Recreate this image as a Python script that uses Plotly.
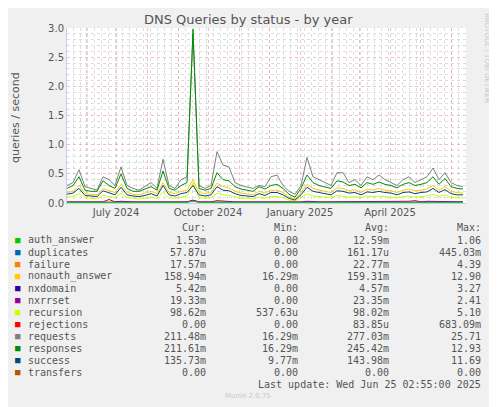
import datetime as dt
import plotly.graph_objects as go

start = dt.datetime(2024, 5, 13)
step_days = 6

requests = [0.30, 0.35, 0.57, 0.28, 0.25, 0.22, 0.45, 0.40, 0.30, 0.62,
            0.30, 0.25, 0.22, 0.28, 0.35, 0.25, 0.75, 0.30, 0.25, 0.40,
            0.45, 2.90, 0.30, 0.25, 0.30, 0.88, 0.65, 0.62, 0.35, 0.30,
            0.28, 0.25, 0.30, 0.28, 0.45, 0.48, 0.30, 0.20, 0.15, 0.30,
            0.78, 0.45, 0.40, 0.35, 0.30, 0.52, 0.52, 0.35, 0.40, 0.30,
            0.45, 0.40, 0.48, 0.40, 0.35, 0.30, 0.40, 0.45, 0.35, 0.40,
            0.45, 0.60, 0.40, 0.52, 0.35, 0.30, 0.28]
responses = [0.25, 0.30, 0.45, 0.22, 0.20, 0.20, 0.38, 0.30, 0.25, 0.50,
             0.25, 0.20, 0.20, 0.24, 0.28, 0.22, 0.55, 0.25, 0.22, 0.30,
             0.35, 2.98, 0.25, 0.22, 0.25, 0.52, 0.40, 0.38, 0.28, 0.24,
             0.22, 0.20, 0.28, 0.24, 0.30, 0.32, 0.25, 0.15, 0.10, 0.25,
             0.48, 0.35, 0.30, 0.28, 0.25, 0.38, 0.36, 0.30, 0.32, 0.26,
             0.35, 0.32, 0.36, 0.32, 0.30, 0.26, 0.32, 0.35, 0.30, 0.32,
             0.35, 0.45, 0.32, 0.42, 0.28, 0.25, 0.24]
nonauth_answer = [0.18, 0.20, 0.30, 0.16, 0.15, 0.14, 0.25, 0.22, 0.18, 0.32,
                  0.18, 0.15, 0.14, 0.17, 0.20, 0.16, 0.35, 0.18, 0.16, 0.20,
                  0.22, 0.40, 0.18, 0.16, 0.18, 0.34, 0.28, 0.26, 0.20, 0.17,
                  0.16, 0.14, 0.20, 0.17, 0.22, 0.22, 0.18, 0.10, 0.07, 0.18,
                  0.32, 0.25, 0.22, 0.20, 0.18, 0.26, 0.25, 0.21, 0.23, 0.18,
                  0.24, 0.22, 0.25, 0.22, 0.21, 0.18, 0.22, 0.24, 0.21, 0.22,
                  0.24, 0.30, 0.22, 0.28, 0.20, 0.18, 0.17]
success = [0.15, 0.17, 0.25, 0.13, 0.12, 0.11, 0.21, 0.18, 0.14, 0.27,
           0.14, 0.12, 0.11, 0.13, 0.16, 0.12, 0.30, 0.14, 0.12, 0.16,
           0.18, 0.30, 0.14, 0.12, 0.14, 0.28, 0.22, 0.21, 0.16, 0.13,
           0.12, 0.11, 0.16, 0.13, 0.18, 0.18, 0.14, 0.08, 0.05, 0.14,
           0.27, 0.20, 0.18, 0.16, 0.14, 0.21, 0.20, 0.17, 0.18, 0.14,
           0.19, 0.18, 0.20, 0.18, 0.17, 0.14, 0.18, 0.19, 0.16, 0.18,
           0.19, 0.25, 0.18, 0.23, 0.16, 0.14, 0.14]
recursion = [0.10, 0.11, 0.16, 0.09, 0.08, 0.07, 0.13, 0.11, 0.09, 0.17,
             0.09, 0.08, 0.07, 0.08, 0.10, 0.08, 0.18, 0.09, 0.08, 0.10,
             0.12, 0.35, 0.09, 0.08, 0.09, 0.17, 0.14, 0.13, 0.10, 0.08,
             0.08, 0.07, 0.10, 0.08, 0.11, 0.11, 0.09, 0.05, 0.03, 0.09,
             0.16, 0.12, 0.11, 0.10, 0.09, 0.13, 0.12, 0.10, 0.11, 0.09,
             0.12, 0.11, 0.12, 0.11, 0.10, 0.09, 0.11, 0.12, 0.10, 0.11,
             0.12, 0.15, 0.11, 0.14, 0.10, 0.09, 0.09]
nxrrset = [0.02, 0.02, 0.03, 0.02, 0.02, 0.02, 0.02, 0.06, 0.02, 0.03,
           0.02, 0.02, 0.02, 0.02, 0.02, 0.02, 0.03, 0.02, 0.02, 0.02,
           0.02, 0.05, 0.02, 0.02, 0.02, 0.04, 0.03, 0.02, 0.02, 0.02,
           0.02, 0.02, 0.02, 0.02, 0.02, 0.02, 0.02, 0.01, 0.01, 0.02,
           0.03, 0.02, 0.02, 0.02, 0.02, 0.03, 0.02, 0.02, 0.02, 0.02,
           0.03, 0.02, 0.02, 0.02, 0.03, 0.02, 0.02, 0.03, 0.04, 0.02,
           0.03, 0.03, 0.02, 0.03, 0.02, 0.02, 0.02]
failure = [0.02, 0.02, 0.03, 0.02, 0.02, 0.02, 0.02, 0.02, 0.02, 0.03,
           0.02, 0.02, 0.02, 0.02, 0.02, 0.02, 0.02, 0.02, 0.02, 0.02,
           0.02, 0.04, 0.02, 0.02, 0.02, 0.03, 0.02, 0.02, 0.02, 0.02,
           0.02, 0.02, 0.02, 0.02, 0.03, 0.02, 0.02, 0.02, 0.01, 0.02,
           0.02, 0.02, 0.02, 0.02, 0.02, 0.02, 0.02, 0.02, 0.02, 0.02,
           0.02, 0.02, 0.02, 0.02, 0.02, 0.02, 0.02, 0.02, 0.02, 0.02,
           0.02, 0.02, 0.02, 0.02, 0.02, 0.02, 0.02]
auth_answer = [0.01, 0.01, 0.01, 0.01, 0.01, 0.01, 0.01, 0.01, 0.01, 0.01,
               0.01, 0.01, 0.01, 0.01, 0.01, 0.01, 0.01, 0.01, 0.01, 0.01,
               0.01, 0.03, 0.01, 0.01, 0.01, 0.02, 0.01, 0.01, 0.01, 0.01,
               0.01, 0.01, 0.01, 0.01, 0.01, 0.01, 0.01, 0.01, 0.01, 0.01,
               0.01, 0.01, 0.01, 0.01, 0.01, 0.01, 0.01, 0.01, 0.01, 0.01,
               0.01, 0.01, 0.01, 0.01, 0.01, 0.01, 0.01, 0.01, 0.01, 0.01,
               0.01, 0.01, 0.01, 0.01, 0.01, 0.01, 0.01]

names = ["auth_answer", "duplicates", "failure", "nonauth_answer", "nxdomain", "nxrrset",
         "recursion", "rejections", "requests", "responses", "success", "transfers"]
colors = ["#00CC00", "#0066B3", "#FF8000", "#FFCC00", "#330099", "#990099",
          "#CCFF00", "#FF0000", "#808080", "#008F00", "#00487D", "#B35A00"]
cur = ["1.53m", "57.87u", "17.57m", "158.94m", "5.42m", "19.33m", "98.62m", "0.00",
       "211.48m", "211.61m", "135.73m", "0.00"]
mins = ["0.00", "0.00", "0.00", "16.29m", "0.00", "0.00", "537.63u", "0.00",
        "16.29m", "16.29m", "9.77m", "0.00"]
avgs = ["12.59m", "161.17u", "22.77m", "159.31m", "4.57m", "23.35m", "98.02m", "83.85u",
        "277.03m", "245.42m", "143.98m", "0.00"]
maxs = ["1.06", "445.03m", "4.39", "12.90", "3.27", "2.41", "5.10", "683.09m",
        "25.71", "12.93", "11.69", "0.00"]
month_ticks = ["2024-06-01", "2024-07-01", "2024-08-01", "2024-09-01", "2024-10-01",
               "2024-11-01", "2024-12-01", "2025-01-01", "2025-02-01", "2025-03-01",
               "2025-04-01", "2025-05-01", "2025-06-01"]
month_labels = ["", "July 2024", "", "", "October 2024", "", "", "January 2025", "", "",
                "April 2025", "", ""]

series = {
    "auth_answer": auth_answer, "failure": failure, "nonauth_answer": nonauth_answer,
    "nxrrset": nxrrset, "recursion": recursion, "requests": requests,
    "responses": responses, "success": success,
}
draw_order = ["requests", "responses", "nonauth_answer", "recursion", "success",
              "failure", "nxrrset", "auth_answer"]

fig = go.Figure()
for name in draw_order:
    vals = series[name]
    xs = [start + dt.timedelta(days=step_days * i) for i in range(len(vals))]
    fig.add_trace(go.Scatter(x=xs, y=vals, mode="lines",
                             line=dict(color=colors[names.index(name)], width=1),
                             hoverinfo="skip", showlegend=False))

# the page body adds an 8px margin, so the figure is drawn 8px in from the corner
OFF = 8
W, H = 497 - OFF, 407 - OFF
L, R, T, B = 67 - OFF, 31, 28 - OFF, 204
pw, ph = W - L - R, H - T - B


def px(xp):
    return (xp - OFF - L) / pw


def py(yp):
    return (H - B - (yp - OFF)) / ph


mono = "DejaVu Sans Mono"
grey = "#555555"


def txt(text, x, y, anchor="center", size=10, family=mono, color=grey, angle=0):
    return dict(text=text, x=px(x), y=py(y), xref="paper", yref="paper", showarrow=False,
                xanchor=anchor, yanchor="middle", textangle=angle,
                font=dict(family=family, size=size, color=color))


ann = [txt("DNS Queries by status - by year", 248, 20, size=13, family="DejaVu Sans"),
       txt("queries / second", 16, 118, size=11, family="DejaVu Sans", angle=-90),
       txt("RRDTOOL / TOBI OETIKER", 487, 58, size=7, family="DejaVu Sans",
           color="#C8C8C8", angle=90)]
cols_x = [208, 300, 391, 483]
for t, xr in zip(["Cur:", "Min:", "Avg:", "Max:"], cols_x):
    ann.append(txt(t, xr, 227, anchor="right"))
for i, n in enumerate(names):
    yy = 240 + 12 * i
    ann.append(txt("■", 18, yy, size=9, color=colors[i]))
    ann.append(txt(n, 26, yy, anchor="left"))
    for col, xr in zip([cur, mins, avgs, maxs], cols_x):
        ann.append(txt(col[i], xr, yy, anchor="right"))
ann.append(txt("Last update: Wed Jun 25 02:55:00 2025", 483, 384, anchor="right"))
ann.append(txt("Munin 2.0.75", 248, 396, size=7, family="DejaVu Sans", color="#C8C8C8"))

fig.update_layout(
    width=W, height=H, margin=dict(l=L, r=R, t=T, b=B),
    paper_bgcolor="#F0F0F0", plot_bgcolor="#FFFFFF",
    font=dict(family="DejaVu Sans", color=grey, size=10),
    annotations=ann,
    xaxis=dict(range=[dt.datetime(2024, 5, 13), dt.datetime(2025, 6, 16)],
               tickvals=month_ticks, ticktext=month_labels,
               showgrid=True, gridcolor="rgba(230,150,150,0.6)", griddash="dot",
               minor=dict(dtick=7 * 86400000, showgrid=True, gridcolor="#DDDDDD",
                          griddash="dot"),
               zeroline=False, ticks="", tickfont=dict(size=10),
               showline=True, linecolor="#C8C8FF"),
    yaxis=dict(range=[0, 3.0], dtick=0.5, tickformat=".1f",
               showgrid=True, gridcolor="rgba(230,150,150,0.6)", griddash="dot",
               minor=dict(dtick=0.1, showgrid=True, gridcolor="#DDDDDD", griddash="dot"),
               zeroline=False, ticks="", tickfont=dict(size=10),
               showline=True, linecolor="#C8C8FF"),
)
fig.write_html("out.html")
